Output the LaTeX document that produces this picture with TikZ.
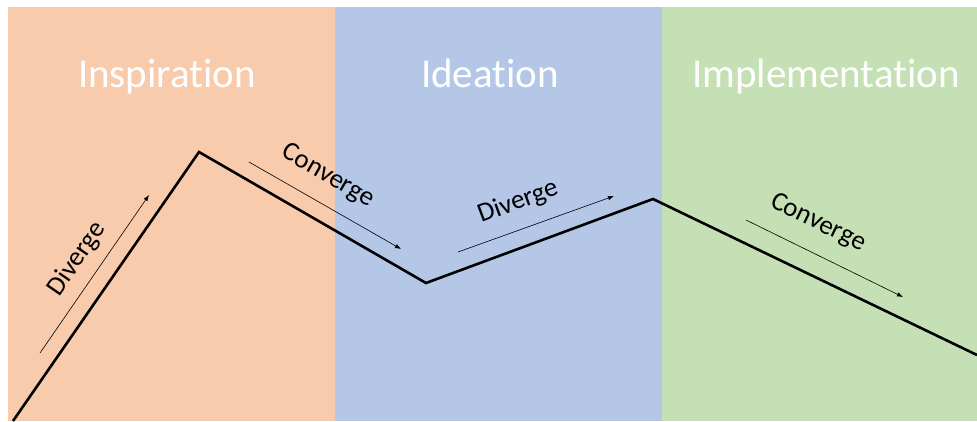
\documentclass[tikz,border=0pt]{standalone}
\usepackage{fontspec}
\setmainfont{Carlito}[Ligatures={NoCommon}]
\usetikzlibrary{arrows.meta}
\definecolor{phaseorange}{HTML}{F8CBAD}
\definecolor{phaseblue}{HTML}{B4C7E7}
\definecolor{phasegreen}{HTML}{C5E0B4}
\begin{document}
\begin{tikzpicture}[x=1pt,y=-1pt,
  phase/.style={font=\fontsize{41}{41}\selectfont, text=white, anchor=base, inner sep=0pt},
  steplabel/.style={font=\fontsize{27}{27}\selectfont, text=black, inner sep=0pt},
  path/.style={line width=2.6pt, line join=miter, black},
  hint/.style={line width=0.6pt, black, -{Latex[length=6pt,width=4.5pt]}}]
  \useasboundingbox (0,0) rectangle (977,421);
  \fill[white] (0,0) rectangle (977,421);
  % phase backgrounds
  \fill[phaseorange] (8,7) rectangle (335,421);
  \fill[phaseblue] (335,7) rectangle (662,421);
  \fill[phasegreen] (662,7) rectangle (977,421);
  % phase titles
  \node[phase] (insp) at (167,87) {Inspiration};
  \node[phase] (idea) at (490,87) {Ideation};
  \node[phase] (impl) at (826,87) {Implementation};
  % zigzag process line
  \coordinate (p0) at (13,421);
  \coordinate (p1) at (199,152);
  \coordinate (p2) at (426,283);
  \coordinate (p3) at (653,199);
  \coordinate (p4) at (977,355);
  \draw[path] (p0) -- (p1) -- (p2) -- (p3) -- (p4);
  % direction hints
  \coordinate (a1s) at (40,353);  \coordinate (a1e) at (149,195);
  \coordinate (a2s) at (249,162); \coordinate (a2e) at (401,249);
  \coordinate (a3s) at (458,252); \coordinate (a3e) at (614,196);
  \coordinate (a4s) at (746,220); \coordinate (a4e) at (903,297);
  \draw[hint] (a1s) -- (a1e);
  \draw[hint] (a2s) -- (a2e);
  \draw[hint] (a3s) -- (a3e);
  \draw[hint] (a4s) -- (a4e);
  \node[steplabel, rotate=55.4] (l1) at (77,259) {Diverge};
  \node[steplabel, rotate=-30] (l2) at (328,176) {Converge};
  \node[steplabel, rotate=20.3] (l3) at (518,202) {Diverge};
  \node[steplabel, rotate=-26] (l4) at (818,223) {Converge};
\end{tikzpicture}
\end{document}
